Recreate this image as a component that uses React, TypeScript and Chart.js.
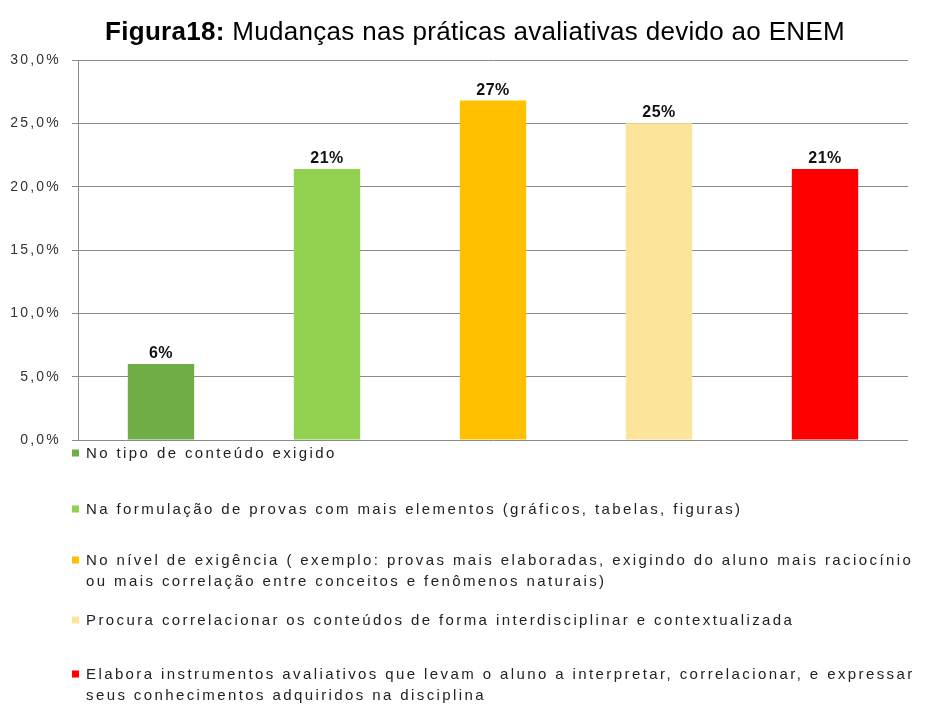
import React, { useEffect, useRef } from 'react';
import { Chart, registerables } from 'chart.js';

Chart.register(...registerables);

// ---- data ----
const categories: string[][] = [
  ['No tipo de conteúdo exigido'],
  ['Na formulação de provas com mais elementos (gráficos, tabelas, figuras)'],
  [
    'No nível de exigência ( exemplo: provas mais elaboradas, exigindo do aluno mais raciocínio',
    'ou mais correlação entre conceitos e fenômenos naturais)',
  ],
  ['Procura correlacionar os conteúdos de forma interdisciplinar e contextualizada'],
  [
    'Elabora instrumentos avaliativos que levam o aluno a interpretar, correlacionar, e expressar',
    'seus conhecimentos adquiridos na disciplina',
  ],
];
const values: number[] = [6.0, 21.4, 26.8, 25.0, 21.4];
const barColors: string[] = ['#70AD47', '#92D050', '#FFC000', '#FDE49B', '#FF0000'];
const yMin = 0;
const yMax = 30;
const yStep = 5;
const titleBold = 'Figura18:';
const titleRest = ' Mudanças nas práticas avaliativas devido ao ENEM';

const SANS = '"Liberation Sans", Arial, sans-serif';

const spacingPlugin = {
  id: 'tickSpacing',
  beforeDraw(chart: any) {
    (chart.ctx as any).letterSpacing = '2.2px';
  },
  beforeDatasetsDraw(chart: any) {
    (chart.ctx as any).letterSpacing = '0px';
  },
};

const labelPlugin = {
  id: 'barLabels',
  afterDatasetsDraw(chart: any) {
    const ctx = chart.ctx as CanvasRenderingContext2D;
    const meta = chart.getDatasetMeta(0);
    ctx.save();
    (ctx as any).letterSpacing = '0.5px';
    ctx.font = `bold 16px ${SANS}`;
    ctx.fillStyle = '#111';
    ctx.textAlign = 'center';
    ctx.textBaseline = 'alphabetic';
    meta.data.forEach((bar: any, i: number) => {
      ctx.fillText(`${Math.round(values[i])}%`, bar.x, bar.y - 6);
    });
    ctx.restore();
  },
};

const titleLegendPlugin = {
  id: 'titleLegend',
  afterDraw(chart: any) {
    const ctx = chart.ctx as CanvasRenderingContext2D;
    ctx.save();
    // title
    ctx.textBaseline = 'alphabetic';
    ctx.textAlign = 'left';
    ctx.fillStyle = '#000';
    (ctx as any).letterSpacing = '0.3px';
    const boldFont = `bold 26px ${SANS}`;
    const regFont = `26px ${SANS}`;
    ctx.font = boldFont;
    const wb = ctx.measureText(titleBold).width;
    ctx.font = regFont;
    const wr = ctx.measureText(titleRest).width;
    const x0 = 475 - (wb + wr) / 2;
    ctx.font = boldFont;
    ctx.fillText(titleBold, x0, 40);
    ctx.font = regFont;
    ctx.fillText(titleRest, x0 + wb, 40);

    // legend
    const rowY = [453, 509, 560, 620, 674];
    const lineH = 21;
    ctx.font = `15px ${SANS}`;
    (ctx as any).letterSpacing = '2.4px';
    ctx.textBaseline = 'middle';
    categories.forEach((lines, i) => {
      const y = rowY[i];
      ctx.fillStyle = barColors[i];
      ctx.fillRect(72, y - 3.5, 7, 7);
      ctx.fillStyle = '#222';
      lines.forEach((t, j) => {
        ctx.fillText(t, 86, y + j * lineH + 1);
      });
    });
    ctx.restore();
  },
};

export default function App() {
  const ref = useRef<HTMLCanvasElement | null>(null);
  useEffect(() => {
    if (!ref.current) return;
    const chart = new Chart(ref.current, {
      type: 'bar',
      data: {
        labels: categories.map((c) => c.join(' ')),
        datasets: [
          {
            data: values,
            backgroundColor: barColors,
            borderWidth: 0,
            barPercentage: 0.4,
            categoryPercentage: 1,
          },
        ],
      },
      options: {
        responsive: false,
        animation: false,
        layout: { padding: { left: 0, right: 19, top: 60, bottom: 264 } },
        plugins: {
          legend: { display: false },
          title: { display: false },
          tooltip: { enabled: false },
        },
        scales: {
          x: { display: false },
          y: {
            min: yMin,
            max: yMax,
            ticks: {
              stepSize: yStep,
              color: '#333',
              padding: 11,
              font: { family: SANS, size: 14 },
              callback: (v: any) => Number(v).toFixed(1).replace('.', ',') + '%',
            },
            grid: { color: '#8a8a8a', lineWidth: 1, tickLength: 6, drawTicks: true },
            border: { display: true, color: '#8a8a8a', width: 1 },
            afterFit: (s: any) => {
              s.width = 78;
            },
          },
        },
      },
      plugins: [spacingPlugin, labelPlugin, titleLegendPlugin],
    });
    return () => chart.destroy();
  }, []);
  return (
    <div style={{ position: 'fixed', left: 0, top: 0, width: 927, height: 704, background: '#fff' }}>
      <canvas ref={ref} width={927} height={704} style={{ display: 'block' }} />
    </div>
  );
}
